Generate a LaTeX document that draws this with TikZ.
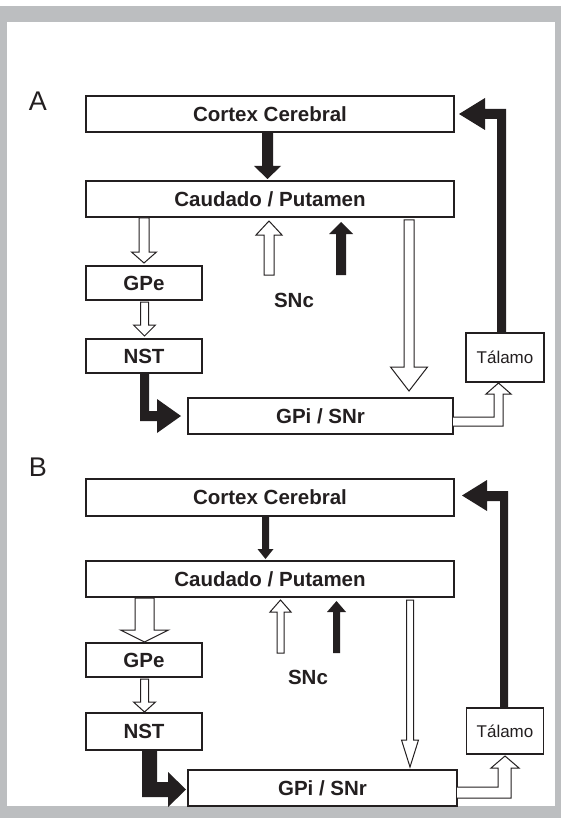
\documentclass[tikz,border=0pt]{standalone}
\usepackage{fontspec}
\setmainfont{Liberation Sans}
\usetikzlibrary{calc}
\definecolor{ink}{HTML}{231F20}
\definecolor{framegray}{RGB}{188,190,192}
\newcommand\vblk[6]{%
  \draw[#1] let \p1=(#2), \p2=(#3) in
    ({\x2-(#4)/2},\y1) -- ({\x2-(#4)/2},{\y2+(#6)}) -- ({\x2-(#5)/2},{\y2+(#6)})
    -- (\x2,\y2) -- ({\x2+(#5)/2},{\y2+(#6)}) -- ({\x2+(#4)/2},{\y2+(#6)})
    -- ({\x2+(#4)/2},\y1) -- cycle;}
\begin{document}
\begin{tikzpicture}[x=1pt,y=-1pt,
  box/.style={draw=ink, line width=1.3pt, fill=white, inner sep=0pt, outer sep=0pt,
    font=\fontsize{20.5}{22}\selectfont\bfseries, text=ink},
  tbox/.style={box, font=\fontsize{17}{19}\selectfont},
  blk/.style={fill=ink, draw=none},
  hol/.style={fill=white, draw=ink, line width=1pt, line join=miter},
  lab/.style={font=\fontsize{20.5}{22}\selectfont\bfseries, text=ink, inner sep=0pt},
  panel/.style={font=\fontsize{27}{30}\selectfont, text=ink, inner sep=0pt}]
\useasboundingbox (0,0) rectangle (561,818);
\fill[framegray] (0,6) rectangle (561,818);
\fill[white] (7,22) rectangle (555,806);

% ---------------- Panel A ----------------
\node[panel] (lA) at (38,101) {A};
\node[box, minimum width=368pt, minimum height=36pt] (cortexA) at (270,114) {Cortex Cerebral};
\node[box, minimum width=368pt, minimum height=36pt] (caudA) at (270,199) {Caudado / Putamen};
\node[box, minimum width=116pt, minimum height=34pt] (gpeA) at (144,283) {GPe};
\node[box, minimum width=116pt, minimum height=34pt] (nstA) at (144,356) {NST};
\node[box, minimum width=265pt, minimum height=36pt] (gpiA) at (320.5,416) {GPi / SNr};
\node[tbox, minimum width=78pt, minimum height=49pt] (talA) at (505,357.5) {Tálamo};
\node[lab] (sncA) at (294,300) {SNc};

\vblk{blk}{$(cortexA.south)+(-2.5,1)$}{$(caudA.north)+(-2.5,-2)$}{11pt}{27pt}{13pt}
\vblk{hol}{$(caudA.south)+(-126,1)$}{$(gpeA.north)+(0,-3)$}{10pt}{25pt}{11pt}
\vblk{hol}{$(gpeA.south)+(0.5,2)$}{$(nstA.north)+(0.5,-3)$}{8pt}{22pt}{11pt}
\vblk{hol}{$(sncA.north)+(-25,-17.5)$}{$(caudA.south)+(-1,4)$}{10pt}{26pt}{-14pt}
\vblk{blk}{$(sncA.north)+(47,-17.5)$}{$(caudA.south)+(71,5)$}{10pt}{24pt}{-12pt}
\vblk{hol}{$(caudA.south)+(139,3)$}{$(gpiA.north)+(88.5,-7)$}{10pt}{37pt}{24pt}

% NST -> GPi (black elbow)
\fill[ink] let \p1=(nstA.south), \p2=(gpiA.west) in
  (\x1-4pt,\y1) -- (\x1-4pt,\y2-5pt) -- (\x2-31pt,\y2-5pt) -- (\x2-31pt,\y2-17pt)
  -- (\x2-7pt,\y2) -- (\x2-31pt,\y2+17pt) -- (\x2-31pt,\y2+5pt) -- (\x1+5pt,\y2+5pt)
  -- (\x1+5pt,\y1) -- cycle;
% Talamo -> Cortex (black elbow)
\fill[ink] let \p1=(talA.north), \p2=(cortexA.east) in
  (\x1-8pt,\y1) -- (\x1-8pt,\y2-5pt) -- (\x2+31pt,\y2-5pt) -- (\x2+31pt,\y2-16pt)
  -- (\x2+5pt,\y2) -- (\x2+31pt,\y2+16pt) -- (\x2+31pt,\y2+5pt) -- (\x1+1pt,\y2+5pt)
  -- (\x1+1pt,\y1) -- cycle;
% GPi -> Talamo (hollow elbow)
\draw[hol] let \p1=(gpiA.east), \p2=(talA.south) in
  (\x1,\y1-1pt) -- (\x2-11pt,\y1-1pt) -- (\x2-11pt,\y2-12pt) -- (\x2-19pt,\y2-12pt)
  -- (\x2-6.5pt,\y2-1pt) -- (\x2+6pt,\y2-12pt) -- (\x2-2pt,\y2-12pt)
  -- (\x2-2pt,\y1-10pt) -- (\x1,\y1-10pt);

% ---------------- Panel B ----------------
\node[panel] (lB) at (38,467) {B};
\node[box, minimum width=368pt, minimum height=37pt] (cortexB) at (270,497.5) {Cortex Cerebral};
\node[box, minimum width=368pt, minimum height=36pt] (caudB) at (270,579) {Caudado / Putamen};
\node[box, minimum width=116pt, minimum height=34pt] (gpeB) at (144,660) {GPe};
\node[box, minimum width=116pt, minimum height=37pt] (nstB) at (144,731.5) {NST};
\node[box, minimum width=269pt, minimum height=36pt] (gpiB) at (322.5,788) {GPi / SNr};
\node[tbox, minimum width=77pt, minimum height=46pt] (talB) at (505,731) {Tálamo};
\node[lab] (sncB) at (308,677) {SNc};

\vblk{blk}{$(cortexB.south)+(-4.5,1)$}{$(caudB.north)+(-4.5,-2)$}{7pt}{16pt}{10pt}
\vblk{hol}{$(caudB.south)+(-125.5,1)$}{$(gpeB.north)+(0.5,-1)$}{19pt}{48pt}{12pt}
\vblk{hol}{$(gpeB.south)+(0.5,2)$}{$(nstB.north)+(0.5,-1)$}{8pt}{22pt}{10pt}
\vblk{hol}{$(sncB.north)+(-27.5,-16.5)$}{$(caudB.south)+(10.5,3)$}{7pt}{21pt}{-12pt}
\vblk{blk}{$(sncB.north)+(28.5,-16.5)$}{$(caudB.south)+(66.5,4)$}{7pt}{19pt}{-11pt}
\vblk{hol}{$(caudB.south)+(140,3)$}{$(gpiB.north)+(87.5,-3)$}{7pt}{17pt}{27pt}

% NST -> GPi (black elbow)
\fill[ink] let \p1=(nstB.south), \p2=(gpiB.west) in
  (\x1-2pt,\y1) -- (\x1-2pt,\y2-9pt) -- (\x2-20pt,\y2-9pt) -- (\x2-20pt,\y2-19pt)
  -- (\x2-2pt,\y2-1.5pt) -- (\x2-20pt,\y2+16pt) -- (\x2-20pt,\y2+6pt) -- (\x1+13pt,\y2+6pt)
  -- (\x1+13pt,\y1) -- cycle;
% Talamo -> Cortex (black elbow)
\fill[ink] let \p1=(talB.north), \p2=(cortexB.east) in
  (\x1-5pt,\y1) -- (\x1-5pt,\y2-3.5pt) -- (\x2+33pt,\y2-3.5pt) -- (\x2+33pt,\y2-13.5pt)
  -- (\x2+8pt,\y2+2pt) -- (\x2+33pt,\y2+17.5pt) -- (\x2+33pt,\y2+6.5pt) -- (\x1+3pt,\y2+6.5pt)
  -- (\x1+3pt,\y1) -- cycle;
% GPi -> Talamo (hollow elbow)
\draw[hol] let \p1=(gpiB.east), \p2=(talB.south) in
  (\x1,\y1+1pt) -- (\x2-7pt,\y1+1pt) -- (\x2-7pt,\y2-14pt) -- (\x2-14pt,\y2-14pt)
  -- (\x2,\y2-2pt) -- (\x2+14pt,\y2-14pt) -- (\x2+6pt,\y2-14pt)
  -- (\x2+6pt,\y1-10pt) -- (\x1,\y1-10pt);
\end{tikzpicture}
\end{document}
